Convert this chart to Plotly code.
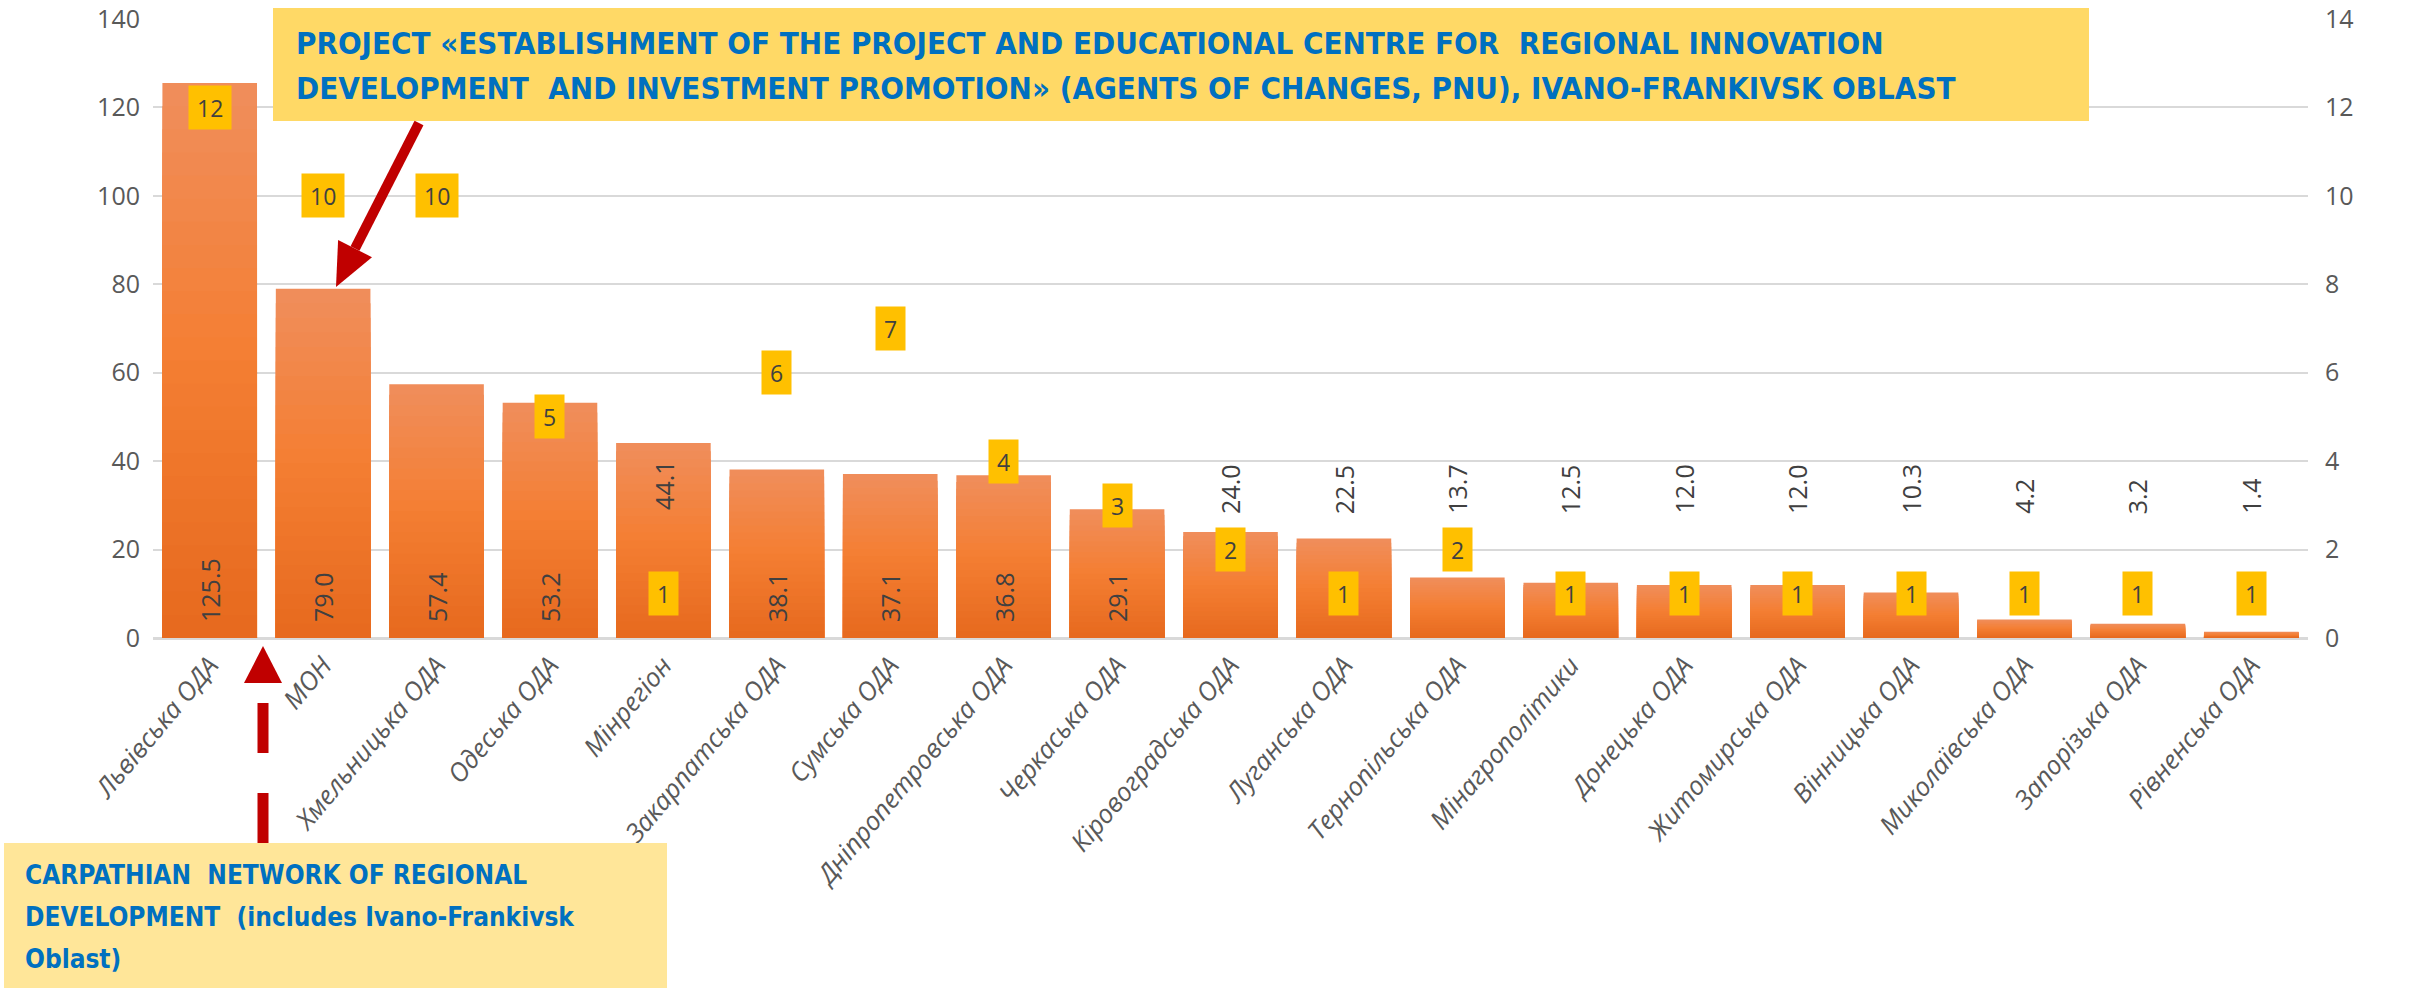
import plotly.graph_objects as go

# ---------------- data ----------------
categories = ["Львівська ОДА", "МОН", "Хмельницька ОДА", "Одеська ОДА", "Мінрегіон",
              "Закарпатська ОДА", "Сумська ОДА", "Дніпропетровська ОДА", "Черкаська ОДА",
              "Кіровоградська ОДА", "Луганська ОДА", "Тернопільська ОДА", "Мінагрополітики",
              "Донецька ОДА", "Житомирська ОДА", "Вінницька ОДА", "Миколаївська ОДА",
              "Запорізька ОДА", "Рівненська ОДА"]
amounts = [125.5, 79.0, 57.4, 53.2, 44.1, 38.1, 37.1, 36.8, 29.1, 24.0, 22.5, 13.7,
           12.5, 12.0, 12.0, 10.3, 4.2, 3.2, 1.4]
counts = [12, 10, 10, 5, 1, 6, 7, 4, 3, 2, 1, 2, 1, 1, 1, 1, 1, 1, 1]
left_ticks = [0, 20, 40, 60, 80, 100, 120, 140]
right_ticks = [0, 2, 4, 6, 8, 10, 12, 14]

top_note_lines = [
    "PROJECT «ESTABLISHMENT OF THE PROJECT AND EDUCATIONAL CENTRE FOR  REGIONAL INNOVATION",
    "DEVELOPMENT  AND INVESTMENT PROMOTION» (AGENTS OF CHANGES, PNU), IVANO-FRANKIVSK OBLAST",
]
bottom_note_lines = [
    "CARPATHIAN  NETWORK OF REGIONAL",
    "DEVELOPMENT  (includes Ivano-Frankivsk",
    "Oblast)",
]

# ---------------- layout constants ----------------
W, H = 2433, 995
ML, MR, MT, MB = 153, 125, 19, 357
PW = W - ML - MR
PH = H - MT - MB
FONT = "Open Sans, DejaVu Sans, sans-serif"
NARROW = "DejaVu Sans Condensed, Liberation Sans Narrow, sans-serif"
TXT = "#404040"
TICK = "#595959"


def px(X, Y):
    return (X - ML) / PW, (H - MB - Y) / PH


def lerp(c1, c2, t):
    return tuple(int(round(a + (b - a) * t)) for a, b in zip(c1, c2))


def grad(t):
    top, mid, bot = (240, 142, 92), (244, 126, 50), (230, 105, 30)
    if t < 0.5:
        c = lerp(top, mid, t / 0.5)
    else:
        c = lerp(mid, bot, (t - 0.5) / 0.5)
    return "rgb(%d,%d,%d)" % c


fig = go.Figure()

# gradient-filled bars: overlaid layers, each a fraction of the bar's value
N = 24
for k in range(N):
    frac = 1 - k / N
    fig.add_trace(go.Bar(
        x=categories, y=[v * frac for v in amounts],
        marker=dict(color=grad((k + 0.5) / N), line=dict(width=0)),
        hoverinfo="skip", showlegend=False,
    ))

# inside labels for tall bars (transparent trace carrying the text)
OUTSIDE_FLOOR = 24.0   # short-bar labels are lifted to this level, as in the original
positions = []
for c, v in zip(categories, amounts):
    if c == "Мінрегіон" or v < 25:
        positions.append("none")
    else:
        positions.append("inside")

fig.add_trace(go.Bar(
    x=categories, y=amounts,
    marker=dict(color="rgba(0,0,0,0)", line=dict(width=0)),
    text=["\u00a0\u00a0%.1f" % v for v in amounts],
    textposition=positions, insidetextanchor="start", textangle=-90,
    textfont=dict(family=FONT, size=25, color=TXT),
    constraintext="none", cliponaxis=False, showlegend=False,
))

# secondary series (number of projects)
fig.add_trace(go.Scatter(
    x=categories, y=counts, yaxis="y2", mode="markers",
    marker=dict(size=1, opacity=0), showlegend=False, hoverinfo="skip",
))

annotations = []
for c, v in zip(categories, amounts):
    if c == "Мінрегіон":
        annotations.append(dict(
            x=c, y=v, xref="x", yref="y", text="%.1f" % v, showarrow=False,
            textangle=-90, yanchor="top", yshift=-16,
            font=dict(family=FONT, size=25, color=TXT),
        ))
    elif v < 25:
        annotations.append(dict(
            x=c, y=max(v, OUTSIDE_FLOOR), xref="x", yref="y", text="%.1f" % v,
            showarrow=False, textangle=-90, yanchor="bottom", yshift=16,
            font=dict(family=FONT, size=25, color=TXT),
        ))

for c, n in zip(categories, counts):
    annotations.append(dict(
        x=c, y=n, xref="x", yref="y2", text=str(n), showarrow=False,
        bgcolor="#FFC000", borderpad=8, height=27,
        font=dict(family=FONT, size=23, color=TXT),
    ))

# callout texts (one annotation per line)
for line, yc in zip(top_note_lines, [43, 88]):
    tx, ty = px(294, yc)
    annotations.append(dict(
        x=tx, y=ty, xref="paper", yref="paper", xanchor="left", yanchor="middle",
        text="<b>" + line + "</b>", showarrow=False, align="left",
        font=dict(family=NARROW, size=31, color="#0070C0"),
    ))
for line, yc in zip(bottom_note_lines, [875, 917, 959]):
    bx, by = px(23, yc)
    annotations.append(dict(
        x=bx, y=by, xref="paper", yref="paper", xanchor="left", yanchor="middle",
        text="<b>" + line + "</b>", showarrow=False, align="left",
        font=dict(family=NARROW, size=26, color="#0070C0"),
    ))

shapes = []
# callout boxes
x0, y0 = px(273, 8)
x1, y1 = px(2089, 121)
shapes.append(dict(type="rect", xref="paper", yref="paper", x0=x0, y0=y0, x1=x1, y1=y1,
                   fillcolor="#FFD966", line=dict(width=0), layer="above"))
x0, y0 = px(4, 843)
x1, y1 = px(667, 988)
shapes.append(dict(type="rect", xref="paper", yref="paper", x0=x0, y0=y0, x1=x1, y1=y1,
                   fillcolor="#FFE699", line=dict(width=0), layer="above"))

# solid red arrow to МОН
a0 = px(419, 123)
a1 = px(355, 248.6)
shapes.append(dict(type="line", xref="paper", yref="paper", x0=a0[0], y0=a0[1], x1=a1[0], y1=a1[1],
                   line=dict(color="#C00000", width=10), layer="above"))
p1, p2, p3 = px(336, 287), px(372, 257.2), px(338.1, 240)
shapes.append(dict(type="path", xref="paper", yref="paper",
                   path="M %f,%f L %f,%f L %f,%f Z" % (p1 + p2 + p3),
                   fillcolor="#C00000", line=dict(width=0), layer="above"))

# dashed red arrow up from bottom box
d0 = px(263, 843)
d1 = px(263, 683)
shapes.append(dict(type="line", xref="paper", yref="paper", x0=d0[0], y0=d0[1], x1=d1[0], y1=d1[1],
                   line=dict(color="#C00000", width=11, dash="50px,40px"), layer="above"))
q1, q2, q3 = px(244, 683), px(282, 683), px(263, 646)
shapes.append(dict(type="path", xref="paper", yref="paper",
                   path="M %f,%f L %f,%f L %f,%f Z" % (q1 + q2 + q3),
                   fillcolor="#C00000", line=dict(width=0), layer="above"))

fig.update_layout(
    width=W, height=H,
    margin=dict(l=ML, r=MR, t=MT, b=MB, autoexpand=False),
    paper_bgcolor="white", plot_bgcolor="white",
    barmode="overlay", bargap=0.166,
    showlegend=False,
    xaxis=dict(
        categoryorder="array", categoryarray=categories,
        range=[-0.5, len(categories) - 0.5],
        tickangle=-50, automargin=False, showgrid=False,
        tickfont=dict(family=FONT, size=26, color=TICK, style="italic"),
        showline=False, ticks="", ticklabelstandoff=6,
    ),
    yaxis=dict(
        range=[0, 140], tickvals=left_ticks, automargin=False,
        showgrid=True, gridcolor="#D9D9D9", gridwidth=2,
        zeroline=True, zerolinecolor="#D9D9D9", zerolinewidth=3,
        tickfont=dict(family=FONT, size=25, color=TICK), ticks="",
        ticklabelstandoff=12,
    ),
    yaxis2=dict(
        range=[0, 14], tickvals=right_ticks, overlaying="y", side="right",
        showgrid=False, zeroline=False, automargin=False,
        tickfont=dict(family=FONT, size=25, color=TICK), ticks="",
        ticklabelstandoff=16,
    ),
    annotations=annotations,
    shapes=shapes,
)

fig.write_html("out.html", config={"displayModeBar": False},
               post_script="document.body.style.margin='0px';document.body.style.overflow='hidden';")
